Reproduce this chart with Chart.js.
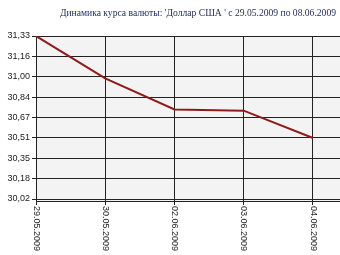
<!DOCTYPE html>
<html><head><meta charset="utf-8">
<script src="https://cdn.jsdelivr.net/npm/chart.js@4"></script>
<style>html,body{margin:0;padding:0;background:#fff}#w{width:340px;height:255px}</style>
</head><body><div id="w"><canvas id="c"></canvas></div>
<script>
const titleText = "Динамика курса валюты: 'Доллар США ' с 29.05.2009 по 08.06.2009";
const categories = ['29.05.2009','30.05.2009','02.06.2009','03.06.2009','04.06.2009'];
const rates = [31.33, 30.99, 30.74, 30.73, 30.51];
const yTickValues = [31.33, 31.16625, 31.0025, 30.83875, 30.675, 30.51125, 30.3475, 30.18375, 30.02];
const yTickLabels = ['31,33','31,16','31,00','30,84','30,67','30,51','30,35','30,18','30,02'];

const bgPlugin = {
  id: 'bg',
  beforeDraw(chart) {
    const a = chart.chartArea, ctx = chart.ctx;
    ctx.save(); ctx.fillStyle = '#f3f3f3';
    ctx.fillRect(a.left, a.top, a.right - a.left, a.bottom - a.top);
    ctx.restore();
  },
  afterDraw(chart) {
    const xs = chart.scales.x, ctx = chart.ctx;
    ctx.save();
    ctx.font = '9.6px "Liberation Serif", "Times New Roman", serif';
    ctx.fillStyle = '#1b2b55';
    ctx.textAlign = 'right'; ctx.textBaseline = 'middle';
    ctx.fillText(titleText, 336, 13);
    ctx.font = '9px "Liberation Sans", Arial, sans-serif';
    ctx.fillStyle = '#222';
    ctx.textAlign = 'left'; ctx.textBaseline = 'middle';
    categories.forEach((lab, i) => {
      const x = xs.getPixelForValue(i);
      ctx.save();
      ctx.translate(x, chart.chartArea.bottom + 5);
      ctx.rotate(Math.PI / 2);
      ctx.fillText(lab, 0, 0);
      ctx.restore();
    });
    ctx.restore();
  }
};

new Chart(document.getElementById('c'), {
  type: 'line',
  data: {
    datasets: [{
      data: rates.map((v, i) => ({x: i, y: v})),
      borderColor: '#8e1b1b', borderWidth: 2, pointRadius: 0, tension: 0, fill: false
    }]
  },
  options: {
    responsive: true, maintainAspectRatio: false, animation: false,
    layout: {padding: {top: 36, left: 0, right: 0, bottom: 0}},
    plugins: {
      legend: {display: false}, tooltip: {enabled: false}, title: {display: false}
    },
    scales: {
      x: {
        type: 'linear', min: 0, max: 4.39,
        afterFit(s) { s.height = 54; },
        ticks: {display: false, stepSize: 1, includeBounds: false},
        grid: {color: '#222', lineWidth: 1, tickLength: 4, drawTicks: true},
        border: {color: '#222', width: 1}
      },
      y: {
        min: 30.004, max: 31.33,
        afterFit(s) { s.width = 36; },
        afterBuildTicks(s) { s.ticks = yTickValues.map(v => ({value: v})); },
        ticks: {
          callback: (v, i) => yTickLabels[i],
          font: {family: '"Liberation Sans", Arial, sans-serif', size: 9},
          color: '#222', padding: 2
        },
        grid: {color: '#222', lineWidth: 1, tickLength: 4},
        border: {color: '#222', width: 1}
      }
    }
  },
  plugins: [bgPlugin]
});
</script>
</body></html>
